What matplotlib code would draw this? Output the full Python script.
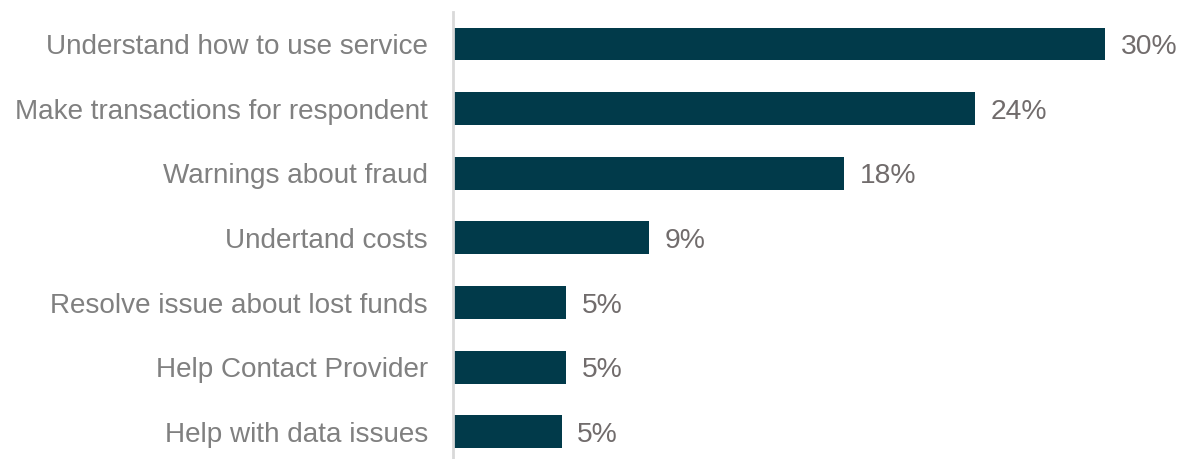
import matplotlib.pyplot as plt

# Survey responses: what people wanted help with
categories = [
    'Understand how to use service',
    'Make transactions for respondent',
    'Warnings about fraud',
    'Undertand costs',
    'Resolve issue about lost funds',
    'Help Contact Provider',
    'Help with data issues',
]
shares = [30, 24, 18, 9, 5.2, 5.2, 5.0]

BAR_COLOR = '#013a4a'
TICK_COLOR = '#808080'
VALUE_COLOR = '#716c6c'

plt.rcParams['font.family'] = ['Liberation Sans', 'DejaVu Sans']

fig = plt.figure(figsize=(11.81, 4.59), dpi=100)
ax = fig.add_axes([453 / 1181, 0, 1 - 453 / 1181, (459 - 12) / 459])

pos = list(range(len(categories)))
bars = ax.barh(pos, shares, height=0.51, color=BAR_COLOR)

for rect, val in zip(bars, shares):
    ax.text(rect.get_width() + 0.72, rect.get_y() + rect.get_height() / 2,
            '{:.0f}%'.format(val), va='center_baseline', ha='left',
            fontsize=20.3, color=VALUE_COLOR)

ax.set_yticks(pos)
ax.set_yticklabels(categories, fontsize=20.1, color=TICK_COLOR)
ax.tick_params(axis='y', length=0, pad=18)
ax.set_xticks([])

ax.set_xlim(0, 728 / 21.73)
ax.set_ylim(6.42, -0.495)

for side in ['top', 'right', 'bottom']:
    ax.spines[side].set_visible(False)
ax.spines['left'].set_color('#d9d9d9')
ax.spines['left'].set_linewidth(2)

fig.savefig('out.png', dpi=100)
